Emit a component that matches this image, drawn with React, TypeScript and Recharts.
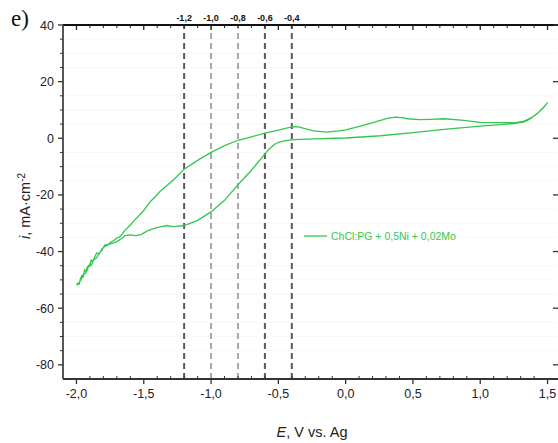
import { CartesianGrid, Legend, Line, LineChart, ReferenceLine, XAxis, YAxis } from 'recharts';

// anodic sweep, -2.0 V -> 1.5 V  [E, i]
const anodicSweep = [
    [-2.0, -51.8], [-1.99, -51.2], [-1.98, -51.5], [-1.97, -49.5], [-1.96, -48.5], [-1.95, -49],
    [-1.94, -46.5], [-1.93, -47], [-1.92, -45.5], [-1.9, -44.5], [-1.89, -43], [-1.88, -43.5],
    [-1.86, -41.5], [-1.85, -40.5], [-1.83, -40.8], [-1.81, -39], [-1.79, -38.2], [-1.77, -37.8],
    [-1.75, -36.8], [-1.72, -36], [-1.7, -35.2], [-1.68, -34.8], [-1.66, -33.8], [-1.64, -32.5],
    [-1.62, -31.6], [-1.6, -30.6], [-1.57, -29], [-1.53, -27], [-1.5, -25.5], [-1.45, -22.3],
    [-1.41, -20.4], [-1.38, -18.8], [-1.33, -16.8], [-1.28, -14.7], [-1.2, -10.9], [-1.1, -7.8],
    [-1.0, -5.0], [-0.9, -2.6], [-0.8, -0.7], [-0.7, 0.5], [-0.6, 1.8], [-0.5, 2.9], [-0.44, 3.6],
    [-0.39, 4.1], [-0.35, 4.0], [-0.31, 3.5], [-0.24, 2.6], [-0.14, 2.2], [-0.05, 2.6], [0.0, 3.0],
    [0.11, 4.3], [0.24, 6.1], [0.31, 7.0], [0.37, 7.5], [0.42, 7.3], [0.46, 6.9], [0.55, 6.6],
    [0.63, 6.7], [0.73, 6.9], [0.86, 6.4], [1.0, 5.6], [1.15, 5.5], [1.27, 5.6], [1.32, 6.0],
    [1.35, 6.6], [1.39, 7.6], [1.43, 9.0], [1.47, 10.8], [1.5, 12.6],
];

// cathodic sweep, 1.5 V -> -2.0 V
const cathodicSweep = [
    [1.46, 10.4], [1.42, 8.6], [1.38, 7.2], [1.35, 6.3], [1.32, 5.7], [1.25, 5.2], [1.0, 4.3],
    [0.75, 3.2], [0.5, 2.0], [0.26, 0.9], [0.0, 0.1], [-0.24, -0.2], [-0.38, -0.45], [-0.45, -0.8],
    [-0.5, -1.4], [-0.53, -2.2], [-0.57, -3.9], [-0.61, -6.1], [-0.66, -9.0], [-0.71, -11.8],
    [-0.8, -16.4], [-0.9, -21.9], [-1.0, -26.0], [-1.1, -29.0], [-1.2, -30.8], [-1.28, -31.2],
    [-1.33, -30.8], [-1.36, -31.1], [-1.41, -31.6], [-1.47, -32.6], [-1.52, -34.0], [-1.56, -34.4],
    [-1.6, -34.1], [-1.64, -34.4], [-1.67, -35.6], [-1.7, -36.5], [-1.73, -37.0], [-1.76, -37.5],
    [-1.79, -37.7], [-1.81, -39.5], [-1.83, -40.5], [-1.85, -42.2], [-1.87, -42.8], [-1.89, -44.8],
    [-1.91, -45.3], [-1.93, -47.6], [-1.95, -48.2], [-1.97, -50.3], [-1.99, -51.6], [-2.0, -51.8],
];

const E_TICKS = [
    -2.0, -1.9, -1.8, -1.7, -1.6, -1.5, -1.4, -1.3, -1.2, -1.1, -1.0, -0.9, -0.8, -0.7, -0.6, -0.5,
    -0.4, -0.3, -0.2, -0.1, 0.0, 0.1, 0.2, 0.3, 0.4, 0.5, 0.6, 0.7, 0.8, 0.9, 1.0, 1.1, 1.2, 1.3,
    1.4, 1.5,
];
const E_MAJOR = [-2.0, -1.5, -1.0, -0.5, 0.0, 0.5, 1.0, 1.5];
const MARKED_E = [-1.2, -1.0, -0.8, -0.6, -0.4];
const MARK_COLORS = ['#5a5a5a', '#a8a8a8', '#a8a8a8', '#5a5a5a', '#5a5a5a'];

const I_TICKS = [
    -80, -75, -70, -65, -60, -55, -50, -45, -40, -35, -30, -25, -20, -15, -10, -5, 0, 5, 10, 15, 20,
    25, 30, 35, 40,
];
const I_MAJOR = [-80, -60, -40, -20, 0, 20, 40];

const SERIES_NAME = 'ChCl:PG + 0,5Ni + 0,02Mo';
const GREEN = '#33c752';

const data = [...anodicSweep, ...cathodicSweep].map(([E, i]) => ({ E, i }));

const isIn = (list: number[], v: number) => list.some(t => Math.abs(t - v) < 1e-6);
const comma = (v: number) => v.toFixed(1).replace('.', ',');

const BottomTick = ({ x, y, payload }: any) => {
    const major = isIn(E_MAJOR, payload.value);
    return (
        <g>
            {major
                ? <line x1={x} x2={x} y1={y} y2={y + 5} stroke="#333" strokeWidth={1.3} />
                : <line x1={x} x2={x} y1={y} y2={y - 3} stroke="#333" strokeWidth={1} />}
            {major && (
                <text x={x} y={y + 19} textAnchor="middle" fontSize={12.5} fill="#222">
                    {comma(payload.value)}
                </text>
            )}
        </g>
    );
};

const TopTick = ({ x, y, payload }: any) => {
    const major = isIn(E_MAJOR, payload.value);
    return (
        <g>
            <line x1={x} x2={x} y1={y} y2={y + (major ? 5 : 3)} stroke="#222" strokeWidth={major ? 1.3 : 1} />
            {isIn(MARKED_E, payload.value) && (
                <text x={x} y={y - 4} textAnchor="middle" fontSize={9} fontWeight="bold" fill="#111">
                    {comma(payload.value)}
                </text>
            )}
        </g>
    );
};

const LeftTick = ({ x, y, payload }: any) => {
    const major = isIn(I_MAJOR, payload.value);
    return (
        <g>
            <line x1={x} x2={x - (major ? 5 : 3)} y1={y} y2={y} stroke="#333" strokeWidth={major ? 1.3 : 1} />
            {major && (
                <text x={x - 9} y={y + 4.5} textAnchor="end" fontSize={12.5} fill="#222">
                    {payload.value}
                </text>
            )}
        </g>
    );
};

const RightTick = ({ x, y, payload }: any) => {
    const major = isIn(I_MAJOR, payload.value);
    return <line x1={x} x2={x - (major ? 8 : 4)} y1={y} y2={y} stroke="#333" strokeWidth={1.3} />;
};

const YLabel = () => (
    <text x={30} y={206} transform="rotate(-90 30 206)" textAnchor="middle" fontSize={14.5} fill="#222">
        <tspan fontStyle="italic">i</tspan>
        <tspan>, mA·cm</tspan>
        <tspan dy={-5} fontSize={10}>-2</tspan>
    </text>
);

const XLabel = () => (
    <text x={312} y={437} textAnchor="middle" fontSize={14.5} fill="#222">
        <tspan fontStyle="italic">E</tspan>
        <tspan>, V vs. Ag</tspan>
    </text>
);

const LegendBox = () => (
    <div style={{ display: 'flex', alignItems: 'center', fontSize: 10.5, color: GREEN, whiteSpace: 'nowrap' }}>
        <svg width={27} height={6}>
            <line x1={0} x2={23} y1={3} y2={3} stroke={GREEN} strokeWidth={1.3} />
        </svg>
        <span>{SERIES_NAME}</span>
    </div>
);

export default function App() {
    return (
        <div style={{ position: 'absolute', left: 0, top: 0, width: 558, height: 443, overflow: 'hidden', background: '#fff', fontFamily: 'Arial, "Liberation Sans", sans-serif' }}>
            <span style={{ position: 'absolute', left: 11, top: 6, fontFamily: '"Liberation Serif", "DejaVu Serif", serif', fontSize: 23, color: '#111' }}>e)</span>
            <LineChart width={566} height={443} data={data} margin={{ top: 5, right: 0, bottom: 22, left: 13 }}>
                <CartesianGrid
                    xAxisId="bottom"
                    yAxisId="left"
                    vertical={false}
                    horizontalValues={I_TICKS.filter(v => !isIn(I_MAJOR, v))}
                    stroke="#f0f0f0"
                    strokeDasharray="2 2"
                />
                <XAxis
                    xAxisId="bottom"
                    dataKey="E"
                    type="number"
                    domain={[-2.1, 1.6]}
                    ticks={E_TICKS}
                    interval={0}
                    height={30}
                    tickSize={0}
                    tickMargin={0}
                    tickLine={false}
                    tick={<BottomTick />}
                    axisLine={{ stroke: '#333', strokeWidth: 1.8 }}
                    allowDataOverflow
                    label={<XLabel />}
                />
                <XAxis
                    xAxisId="top"
                    orientation="top"
                    dataKey="E"
                    type="number"
                    domain={[-2.1, 1.6]}
                    ticks={E_TICKS}
                    interval={0}
                    height={20}
                    tickSize={0}
                    tickMargin={0}
                    tickLine={false}
                    tick={<TopTick />}
                    axisLine={{ stroke: '#111', strokeWidth: 2 }}
                    allowDataOverflow
                />
                <YAxis
                    yAxisId="left"
                    type="number"
                    domain={[-85, 40]}
                    ticks={I_TICKS}
                    interval={0}
                    width={50}
                    tickSize={0}
                    tickMargin={0}
                    tickLine={false}
                    tick={<LeftTick />}
                    axisLine={{ stroke: '#444', strokeWidth: 1.8 }}
                    allowDataOverflow
                    label={<YLabel />}
                />
                <YAxis
                    yAxisId="right"
                    orientation="right"
                    type="number"
                    domain={[-85, 40]}
                    ticks={I_MAJOR}
                    interval={0}
                    width={5}
                    tickSize={0}
                    tickMargin={0}
                    tickLine={false}
                    tick={<RightTick />}
                    axisLine={{ stroke: '#333', strokeWidth: 1.8 }}
                    allowDataOverflow
                />
                {MARKED_E.map((v, k) => (
                    <ReferenceLine
                        key={v}
                        xAxisId="bottom"
                        yAxisId="left"
                        x={v}
                        stroke={MARK_COLORS[k]}
                        strokeWidth={2}
                        strokeDasharray="6 4"
                    />
                ))}
                <Line
                    xAxisId="bottom"
                    yAxisId="left"
                    type="linear"
                    dataKey="i"
                    name={SERIES_NAME}
                    stroke={GREEN}
                    strokeWidth={1.3}
                    dot={false}
                    isAnimationActive={false}
                />
                <Legend content={<LegendBox />} wrapperStyle={{ left: 304, top: 230, width: 230, bottom: 'auto' }} />
            </LineChart>
        </div>
    );
}
